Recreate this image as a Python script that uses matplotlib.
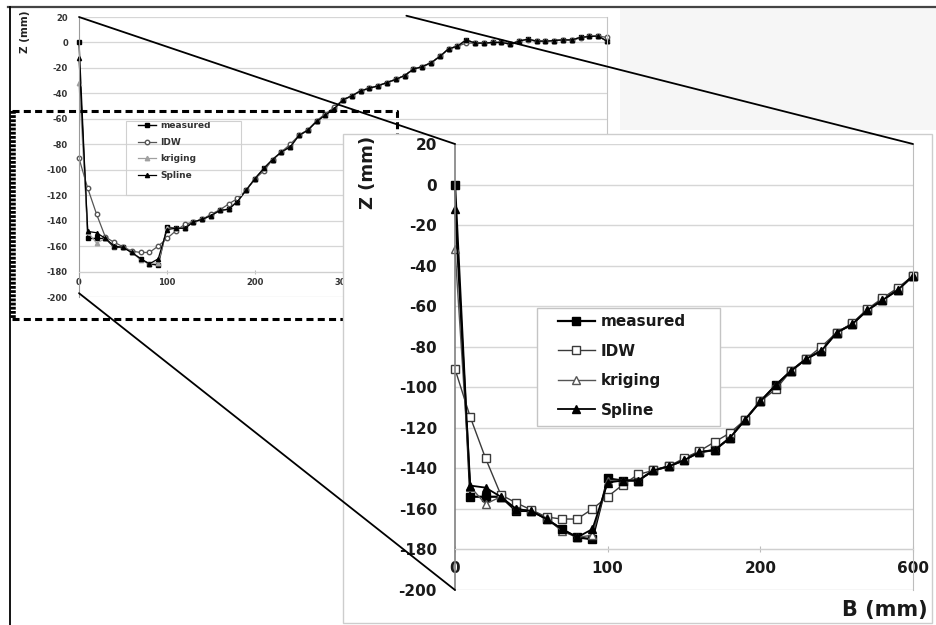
import matplotlib
matplotlib.use("Agg")
import matplotlib.pyplot as plt
from matplotlib.patches import Rectangle, ConnectionPatch
from matplotlib.lines import Line2D

W, H = 936, 625

# B (mm) positions and Z (mm) profiles
b_mm = list(range(0, 610, 10))
measured = [0, -154, -154, -154, -161, -161, -165, -170, -174, -175,
            -145, -146, -146, -141, -139, -136, -132, -131, -125, -116,
            -107, -99, -92, -86, -82, -73, -69, -62, -57, -52,
            -45, -42, -38, -36, -34, -31.5, -29, -26, -21, -19,
            -16, -11, -5, -3, 2, -0.5, -0.5, 0, 0, -1.3,
            1, 2.6, 1, 1, 1.5, 2, 2, 4, 4.7, 5, 1]
idw = [-91, -114.7, -135, -153, -157, -160.5, -164, -165, -165, -160,
       -154, -148, -143, -141, -139, -135, -131.5, -127, -122.6, -116,
       -107, -101, -92, -86, -80, -73, -68.5, -61.5, -56, -51,
       -45, -42, -38, -36, -34, -31.5, -29, -26, -21, -19,
       -16, -11, -5, -3, -0.5, -0.5, -0.5, 0, 0, -1,
       1, 2, 1, 1, 1.5, 2, 2, 3.5, 4.7, 5, 4]
kriging_head = [-32, -149, -157.6, -154, -160, -161, -164.5, -171, -174, -173, -146]
spline_head = [-12, -148.5, -149.5, -154, -160, -161, -165, -170, -174, -170, -147]
kriging = kriging_head + measured[11:]
spline = spline_head + measured[11:]

names = ["measured", "IDW", "kriging", "Spline"]
series = [measured, idw, kriging, spline]
z_ticks = list(range(-200, 21, 20))


def fbox(x0, y0, x1, y1):
    return [x0 / W, 1 - y1 / H, (x1 - x0) / W, (y1 - y0) / H]


def fx(x):
    return x / W


def fy(y):
    return 1 - y / H


plt.rcParams["font.family"] = "DejaVu Sans"
plt.rcParams["font.weight"] = "bold"
plt.rcParams["axes.unicode_minus"] = False

fig = plt.figure(figsize=(W / 100, H / 100), dpi=100)

# ---- small overview chart ----
ax_s = fig.add_axes(fbox(79, 17, 607, 297), zorder=0)
small_styles = [
    dict(color="black", lw=1.0, marker="s", ms=3, mfc="black", mec="black"),
    dict(color="#555555", lw=0.9, marker="o", ms=3.2, mfc="white", mec="#555555"),
    dict(color="#a0a0a0", lw=0.9, marker="^", ms=3.2, mfc="#a0a0a0", mec="#a0a0a0"),
    dict(color="black", lw=0.9, marker="^", ms=3, mfc="black", mec="black"),
]
for name, z, st in zip(names, series, small_styles):
    ax_s.plot(b_mm, z, label=name, clip_on=False, **st)
ax_s.set_xlim(0, 600)
ax_s.set_ylim(-200, 20)
ax_s.set_yticks(z_ticks)
ax_s.set_xticks(range(0, 601, 100))
ax_s.yaxis.grid(True, color="#d6d6d6", lw=0.9)
ax_s.set_axisbelow(True)
ax_s.spines["top"].set_visible(False)
ax_s.spines["right"].set_color("#c4c4c4")
ax_s.spines["left"].set_color("#9a9a9a")
ax_s.spines["bottom"].set_position(("data", -180))
ax_s.spines["bottom"].set_color("#cfcfcf")
ax_s.tick_params(axis="y", length=0, pad=8, labelsize=6, labelcolor="#333333")
ax_s.tick_params(axis="x", length=3, direction="inout", color="#bbbbbb",
                 pad=3, labelsize=6, labelcolor="#333333")
fig.text(fx(25), fy(32), "Z (mm)", rotation=90, ha="center", va="center",
         fontsize=7.5, color="#222222")
ax_s.legend(loc="upper left", bbox_to_anchor=(fx(138), fy(121)),
            bbox_transform=fig.transFigure, frameon=False, fontsize=6.5,
            handlelength=2.0, handletextpad=0.5, labelspacing=0.85,
            borderaxespad=0, borderpad=0, labelcolor="#333333")
fig.add_artist(Rectangle((fx(126), fy(195)), fx(241) - fx(126), fy(121) - fy(195),
                         transform=fig.transFigure, fill=False, ec="#d0d0d0",
                         lw=0.8, zorder=0.5))

# light grey region to the right of the overview
fig.add_artist(Rectangle((fx(620), fy(130)), fx(936) - fx(620), fy(8) - fy(130),
                         transform=fig.transFigure, fc="#f6f6f6", ec="none", zorder=0.2))

# dashed selection rectangle
dash = dict(color="black", lw=2.2, ls=(0, (2.3, 1.4)), zorder=1)
fig.add_artist(Line2D([fx(12), fx(397), fx(397)], [fy(111), fy(111), fy(134)],
                      transform=fig.transFigure, **dash))
fig.add_artist(Line2D([fx(12), fx(343)], [fy(319), fy(319)],
                      transform=fig.transFigure, **dash))
fig.add_artist(Line2D([fx(12.5), fx(12.5)], [fy(111), fy(319)],
                      transform=fig.transFigure, color="black", lw=4,
                      ls=(0, (0.5, 0.25)), zorder=1))

# ---- big zoomed chart ----
fig.add_artist(Rectangle((fx(343), fy(623)), fx(932) - fx(343), fy(134) - fy(623),
                         transform=fig.transFigure, fc="white", ec="#cdcdcd",
                         lw=1, zorder=2))
ax_b = fig.add_axes(fbox(455, 144, 913, 590), zorder=3)
big_styles = [
    dict(color="black", lw=1.6, marker="s", ms=6, mfc="black", mec="black"),
    dict(color="#3a3a3a", lw=1.0, marker="s", ms=6, mfc="white", mec="#3a3a3a"),
    dict(color="#555555", lw=1.0, marker="^", ms=6, mfc="white", mec="#555555"),
    dict(color="black", lw=1.3, marker="^", ms=6, mfc="black", mec="black"),
]
n_big = 31
for name, z, st in zip(names, series, big_styles):
    ax_b.plot(b_mm[:n_big], z[:n_big], label=name, clip_on=False, **st)
ax_b.set_xlim(0, 300)
ax_b.set_ylim(-200, 20)
ax_b.set_yticks(z_ticks)
ax_b.set_xticks([0, 100, 200, 300])
ax_b.set_xticklabels(["0", "100", "200", "600"])
ax_b.yaxis.grid(True, color="#d6d6d6", lw=1)
ax_b.set_axisbelow(True)
ax_b.spines["top"].set_visible(False)
ax_b.spines["right"].set_color("#bdbdbd")
ax_b.spines["left"].set_color("#808080")
ax_b.spines["left"].set_linewidth(1.2)
ax_b.spines["bottom"].set_position(("data", -180))
ax_b.spines["bottom"].set_color("#cfcfcf")
ax_b.tick_params(axis="y", length=0, pad=13, labelsize=11, labelcolor="#1a1a1a")
ax_b.tick_params(axis="x", length=5, direction="inout", color="#bbbbbb",
                 pad=6, labelsize=11, labelcolor="#1a1a1a")
fig.text(fx(368), fy(172), "Z (mm)", rotation=90, ha="center", va="center",
         fontsize=13, color="#1a1a1a")
fig.text(fx(928), fy(610), "B (mm)", ha="right", va="center",
         fontsize=15, color="#1a1a1a")
leg = ax_b.legend(loc="upper left", bbox_to_anchor=(fx(558), fy(314)),
                  bbox_transform=fig.transFigure, frameon=False, fontsize=11,
                  handlelength=2.4, handletextpad=0.4, labelspacing=0.95,
                  borderaxespad=0, borderpad=0, labelcolor="#1a1a1a")
leg.set_zorder(6)
ax_b.add_patch(Rectangle((fx(537), fy(426)), fx(720) - fx(537), fy(308) - fy(426),
                         transform=fig.transFigure, fc="white", ec="#c4c4c4",
                         lw=1, zorder=5, clip_on=False))

# ---- connector lines between the two charts ----
links = [((0, 20), (0, 20)), ((0, -197), (0, -200)), ((372, 21), (300, 20))]
for a, b in links:
    cp = ConnectionPatch(xyA=a, coordsA=ax_s.transData, xyB=b, coordsB=ax_b.transData,
                         color="black", lw=1.3, zorder=7)
    fig.add_artist(cp)

# outer frame of the picture
fig.add_artist(Line2D([fx(8), fx(936)], [fy(7), fy(7)], transform=fig.transFigure,
                      color="#444444", lw=1.6, zorder=8))
fig.add_artist(Line2D([fx(9.5), fx(9.5)], [fy(7), fy(625)], transform=fig.transFigure,
                      color="black", lw=1.3, zorder=8))

fig.savefig("out.png", dpi=100)
